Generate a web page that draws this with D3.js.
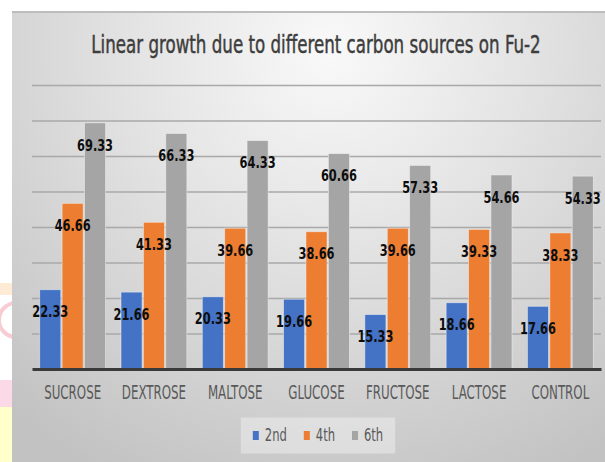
<!DOCTYPE html>
<html>
<head>
<meta charset="utf-8">
<script src="https://cdn.jsdelivr.net/npm/d3@7"></script>
<style>
  html, body { margin: 0; padding: 0; background: #ffffff; }
  svg { display: block; }
</style>
</head>
<body>
<svg id="chart" width="605" height="462"></svg>
<script>
const categories = ["SUCROSE", "DEXTROSE", "MALTOSE", "GLUCOSE", "FRUCTOSE", "LACTOSE", "CONTROL"];
const seriesNames = ["2nd", "4th", "6th"];
const values2nd = [22.33, 21.66, 20.33, 19.66, 15.33, 18.66, 17.66];
const values4th = [46.66, 41.33, 39.66, 38.66, 39.66, 39.33, 38.33];
const values6th = [69.33, 66.33, 64.33, 60.66, 57.33, 54.66, 54.33];
const yTicks = [0, 10, 20, 30, 40, 50, 60, 70, 80];
const titleText = "Linear growth due to different carbon sources on Fu-2";

const COLORS = ["#4472c4", "#ed7d31", "#a5a5a5"];
const FONT = "'DejaVu Sans Condensed', 'Liberation Sans Narrow', sans-serif";

const seriesValues = [values2nd, values4th, values6th];
const data = categories.map((c, i) => ({
  category: c,
  values: seriesNames.map((s, k) => ({ series: s, idx: k, value: seriesValues[k][i] })),
}));

const width = 605, height = 462;
const card = { left: 12, top: 12 };
const plot = { left: 32, right: 601, top: 85, bottom: 369 };

const svg = d3.select("#chart");
const defs = svg.append("defs");

// place a text at (px, py) with a vertical stretch (the reference text is squeezed horizontally)
function place(sel, px, py, sy) {
  sel.attr("x", 0).attr("y", 0)
    .attr("transform", (d, i, n) => {
      const X = typeof px === "function" ? px(d, i, n) : px;
      const Y = typeof py === "function" ? py(d, i, n) : py;
      return `translate(${X},${Y}) scale(1,${sy})`;
    });
}

// scale font size of a selection so a reference node has the target width
function fitWidth(sel, target, base, refNode) {
  const node = refNode || sel.node();
  const w = node.getComputedTextLength();
  if (!w) return;
  const size = base * target / w;
  sel.style("font-size", size.toFixed(2) + "px");
}

// soft watermark bits visible left of the chart card
const wm = svg.append("g").attr("class", "watermark");
wm.append("rect").attr("x", 0).attr("y", 283).attr("width", card.left).attr("height", 12).attr("fill", "#fdebd6");
wm.append("circle").attr("cx", 16).attr("cy", 320).attr("r", 17)
  .attr("fill", "none").attr("stroke", "#f7cdd3").attr("stroke-width", 4);
wm.append("rect").attr("x", 0).attr("y", 380).attr("width", card.left).attr("height", 27).attr("fill", "#fbd9e6");
wm.append("rect").attr("x", 0).attr("y", 407).attr("width", card.left).attr("height", height - 407).attr("fill", "#ffffcc");

// chart card background
const grad = defs.append("radialGradient")
  .attr("id", "bg")
  .attr("gradientUnits", "userSpaceOnUse")
  .attr("cx", 330).attr("cy", 50).attr("r", 480)
  .attr("fx", 330).attr("fy", 50);
grad.append("stop").attr("offset", 0).attr("stop-color", "#f9f9f9");
grad.append("stop").attr("offset", 0.4).attr("stop-color", "#e4e4e4");
grad.append("stop").attr("offset", 1).attr("stop-color", "#c2c2c2");

svg.append("rect")
  .attr("x", card.left).attr("y", card.top)
  .attr("width", width - card.left).attr("height", height - card.top)
  .attr("fill", "url(#bg)");
svg.append("line")
  .attr("x1", card.left).attr("x2", width)
  .attr("y1", card.top).attr("y2", card.top)
  .attr("stroke", "#bdbdbd").attr("stroke-width", 2);

// title
const title = svg.append("text")
  .attr("text-anchor", "middle")
  .attr("dominant-baseline", "central")
  .attr("fill", "#3d3d3d")
  .style("font-family", FONT)
  .style("font-size", "18px")
  .style("stroke", "#3d3d3d")
  .style("stroke-width", 0.35)
  .text(titleText)
  .call(place, 316, 45, 1.3);
fitWidth(title, 449, 18);

const x = d3.scaleBand()
  .domain(categories)
  .range([plot.left, plot.right])
  .paddingInner(0.19)
  .paddingOuter(0.095);
const xSub = d3.scaleBand()
  .domain(seriesNames)
  .range([0, x.bandwidth()])
  .paddingInner(0.06);
const y = d3.scaleLinear().domain([0, 80]).range([plot.bottom, plot.top]);

// gridlines
const grid = svg.append("g").attr("class", "grid")
  .attr("transform", `translate(${plot.left},0)`)
  .call(d3.axisLeft(y).tickValues(yTicks.filter((t) => t > 0)).tickSize(-(plot.right - plot.left)).tickFormat(""));
grid.select(".domain").remove();
grid.selectAll("line").attr("stroke", "#a9a9a9").attr("stroke-width", 1.3);

// bars
const groups = svg.append("g").attr("class", "bars")
  .selectAll("g")
  .data(data)
  .join("g")
  .attr("transform", (d) => `translate(${x(d.category)},0)`);

groups.selectAll("rect")
  .data((d) => d.values)
  .join("rect")
  .attr("x", (d) => xSub(d.series))
  .attr("y", (d) => y(d.value))
  .attr("width", xSub.bandwidth())
  .attr("height", (d) => y(0) - y(d.value))
  .attr("fill", (d) => COLORS[d.idx])
  .attr("stroke", "#f4f4f4")
  .attr("stroke-opacity", 0.6)
  .attr("stroke-width", 0.8);

// x axis baseline + labels
const gx = svg.append("g").attr("class", "x-axis")
  .attr("transform", `translate(0,${plot.bottom})`)
  .call(d3.axisBottom(x).tickSize(0));
gx.select(".domain").attr("stroke", "#3a3a3a").attr("stroke-width", 3);
const xLabels = gx.selectAll("text")
  .attr("fill", "#595959")
  .attr("dy", null)
  .attr("dominant-baseline", "central")
  .style("font-family", FONT)
  .style("font-size", "14px")
  .call(place, 0, 24, 1.45);
fitWidth(xLabels, 57, 14, xLabels.filter((d) => d === "SUCROSE").node());

// data labels
const valLabels = groups.selectAll("text.val")
  .data((d) => d.values)
  .join("text")
  .attr("class", "val")
  .attr("text-anchor", "middle")
  .attr("dominant-baseline", "central")
  .attr("fill", "#0d0d0d")
  .style("font-family", FONT)
  .style("font-weight", 700)
  .style("font-size", "15px")
  .text((d) => d.value.toFixed(2))
  .call(place, (d) => xSub(d.series) + xSub.bandwidth() / 2, (d) => y(d.value) + 21.5, 1.3);
fitWidth(valLabels, 36, 15, valLabels.node());

// legend
const legend = svg.append("g").attr("class", "legend");
const legendBox = legend.append("rect")
  .attr("fill", "#ffffff").attr("fill-opacity", 0.35);
const items = legend.selectAll("g.item")
  .data(seriesNames)
  .join("g")
  .attr("class", "item");
items.append("rect")
  .attr("width", 6).attr("height", 9)
  .attr("y", -4.5)
  .attr("fill", (d, i) => COLORS[i]);
const legTexts = items.append("text")
  .attr("dominant-baseline", "central")
  .attr("fill", "#595959")
  .style("font-family", FONT)
  .style("font-size", "14px")
  .text((d) => d)
  .call(place, 12, 0, 1.4);
fitWidth(legTexts, 22, 14, legTexts.node());

let lx = 0;
const gap = 17;
items.each(function () {
  const w = this.getBBox().width;
  d3.select(this).attr("data-x", lx);
  lx += w + gap;
});
const totalW = lx - gap;
const legendCx = 318, legendCy = 435.5;
items.attr("transform", function () {
  return `translate(${legendCx - totalW / 2 + +this.getAttribute("data-x")},${legendCy})`;
});
legendBox
  .attr("x", legendCx - totalW / 2 - 12)
  .attr("y", legendCy - 18)
  .attr("width", totalW + 24)
  .attr("height", 36);
</script>
</body>
</html>
